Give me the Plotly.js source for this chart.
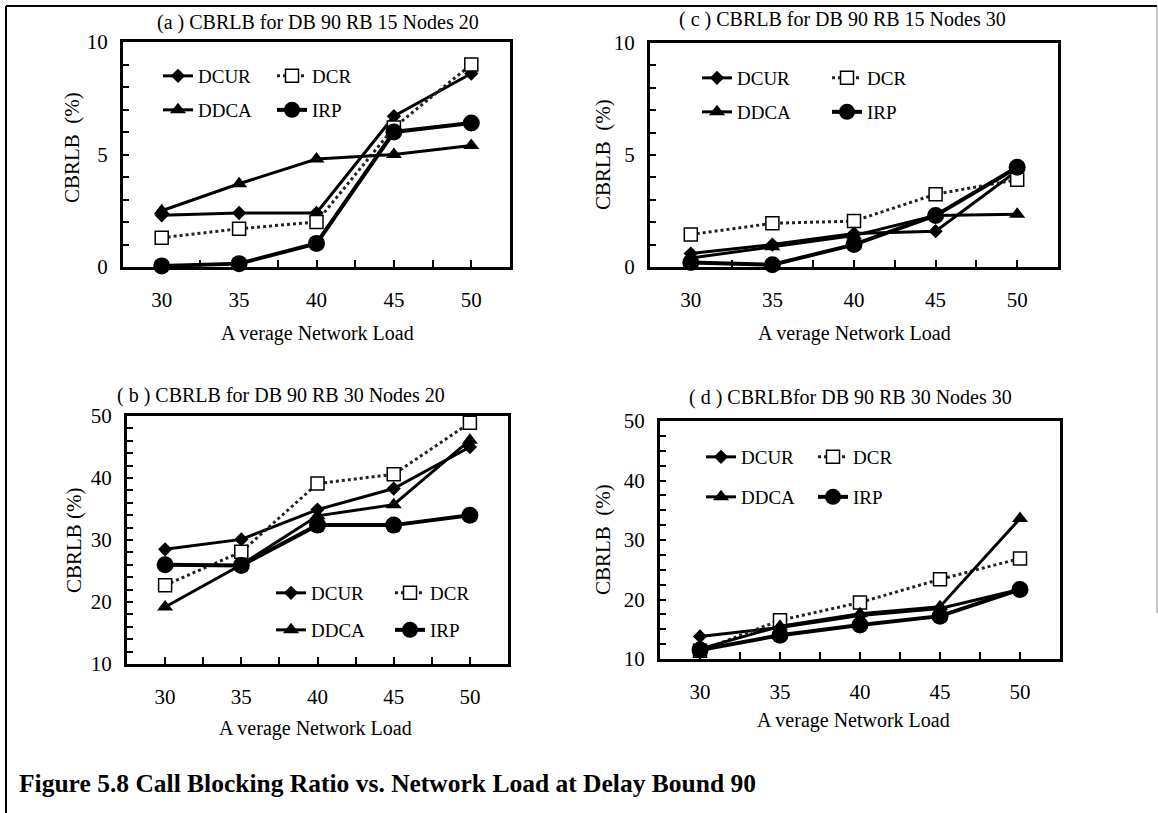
<!DOCTYPE html>
<html>
<head>
<meta charset="utf-8">
<script src="https://cdn.plot.ly/plotly-3.0.1.min.js"></script>
<style>
html,body{margin:0;padding:0;background:#fff;}
#chart{width:1158px;height:813px;}
</style>
</head>
<body>
<div id="chart"></div>
<script>
// ---------- DATA ----------
const loads = [30, 35, 40, 45, 50];
const seriesNames = ["DCUR", "DCR", "DDCA", "IRP"];

// (a) DB 90 RB 15 Nodes 20
const a_DCUR = [2.3, 2.4, 2.4, 6.7, 8.6];
const a_DCR  = [1.3, 1.7, 2.0, 6.2, 9.0];
const a_DDCA = [2.5, 3.7, 4.8, 5.0, 5.4];
const a_IRP  = [0.05, 0.15, 1.05, 6.0, 6.4];

// (c) DB 90 RB 15 Nodes 30
const c_DCUR = [0.6, 1.0, 1.5, 1.6, 4.3];
const c_DCR  = [1.45, 1.95, 2.05, 3.25, 3.9];
const c_DDCA = [0.4, 0.9, 1.4, 2.3, 2.35];
const c_IRP  = [0.2, 0.1, 1.0, 2.3, 4.45];

// (b) DB 90 RB 30 Nodes 20
const b_DCUR = [28.5, 30.1, 34.9, 38.3, 45.0];
const b_DCR  = [22.7, 28.1, 39.1, 40.6, 48.9];
const b_DDCA = [19.2, 26.0, 33.9, 35.7, 46.1];
const b_IRP  = [26.0, 25.9, 32.4, 32.4, 34.0];

// (d) DB 90 RB 30 Nodes 30
const d_DCUR = [13.8, 15.3, 17.3, 18.5, 21.7];
const d_DCR  = [11.4, 16.5, 19.5, 23.4, 26.9];
const d_DDCA = [11.7, 15.5, 17.6, 18.8, 33.6];
const d_IRP  = [11.5, 14.0, 15.7, 17.2, 21.7];

const panelTitles = [
  "(a ) CBRLB for DB 90 RB 15 Nodes 20",
  "( c ) CBRLB for DB 90 RB 15 Nodes 30",
  "( b ) CBRLB for DB 90 RB 30 Nodes 20",
  "( d ) CBRLBfor DB 90 RB 30 Nodes 30"
];
const xTitle = "A verage Network Load";
const yTitleSmall = "CBRLB  (%)";
const yTitleLarge = "CBRLB (%)";
const caption = "Figure 5.8 Call Blocking Ratio vs. Network Load at Delay Bound 90";

// ---------- STYLE ----------
const W = 1158, H = 813;
const FONT = "Liberation Serif";
const px = v => v / W;
const py = v => 1 - v / H;
const serifSpan = t => "<span style='font-family:Liberation Serif'>" + t + "</span>";

const styles = {
  DCUR: {line: {color: "#000", width: 3, dash: "solid"}, marker: {symbol: "diamond", size: 11, color: "#000"}},
  DCR:  {line: {color: "#222", width: 3, dash: "dot"}, marker: {symbol: "square", size: 13, color: "#fff", line: {color: "#000", width: 1.5}}},
  DDCA: {line: {color: "#000", width: 3, dash: "solid"}, marker: {symbol: "triangle-up", size: 14, color: "#000"}},
  IRP:  {line: {color: "#000", width: 4, dash: "solid"}, marker: {symbol: "circle", size: 17, color: "#000"}}
};

const panels = [
  {key: "a", data: [a_DCUR, a_DCR, a_DDCA, a_IRP], box: [123, 510, 42, 267], yr: [0, 10], ydt: 5, yminor: 1,
   title: [318, 23], xt: [317, 333], yt: [72, 148], yTitle: yTitleSmall,
   leg: {x1: 200, x2: 312, r1: 76, r2: 110}},
  {key: "c", data: [c_DCUR, c_DCR, c_DDCA, c_IRP], box: [650, 1058, 43, 267], yr: [0, 10], ydt: 5, yminor: 1,
   title: [842, 19], xt: [854, 333], yt: [603, 155], yTitle: yTitleSmall,
   leg: {x1: 739, x2: 867, r1: 78, r2: 112}},
  {key: "b", data: [b_DCUR, b_DCR, b_DDCA, b_IRP], box: [127, 508, 416, 664], yr: [10, 50], ydt: 10, yminor: 2,
   title: [281, 395], xt: [315, 728], yt: [74, 540], yTitle: yTitleLarge,
   leg: {x1: 313, x2: 430, r1: 593, r2: 630}},
  {key: "d", data: [d_DCUR, d_DCR, d_DDCA, d_IRP], box: [660, 1060, 421, 659], yr: [10, 50], ydt: 10, yminor: 2.5,
   title: [850, 397], xt: [853, 720], yt: [603, 540], yTitle: yTitleSmall,
   leg: {x1: 743, x2: 853, r1: 457, r2: 497}}
];

const traces = [];
const layout = {
  width: W, height: H,
  margin: {l: 0, r: 0, t: 0, b: 0},
  paper_bgcolor: "#fff", plot_bgcolor: "#fff",
  font: {family: FONT, color: "#000", size: 18},
  showlegend: true,
  annotations: [], shapes: []
};

panels.forEach((p, i) => {
  const n = i + 1;
  const xa = n === 1 ? "x" : "x" + n;
  const ya = n === 1 ? "y" : "y" + n;
  const legRow1 = "legend" + (2 * i + 1 === 1 ? "" : (2 * i + 1));
  const legRow2 = "legend" + (2 * i + 2);
  p.data.forEach((vals, s) => {
    const name = seriesNames[s];
    traces.push({
      type: "scatter", mode: "lines+markers", name: serifSpan(name),
      x: loads, y: vals, xaxis: xa, yaxis: ya,
      line: styles[name].line, marker: styles[name].marker,
      cliponaxis: false,
      legend: (s < 2) ? legRow1 : legRow2,
      hoverinfo: "x+y+name"
    });
  });
  const [l, r, t, b] = p.box;
  const yTicks = [];
  for (let v = p.yr[0]; v <= p.yr[1]; v += p.ydt) yTicks.push(v);
  layout["xaxis" + (n === 1 ? "" : n)] = {
    domain: [px(l), px(r)], anchor: ya, range: [27.5, 52.5],
    tickvals: loads, ticktext: loads.map(v => serifSpan(String(v))),
    ticks: "inside", ticklen: 7, tickwidth: 2, tickcolor: "#000",
    minor: {ticks: "inside", dtick: 2.5, tick0: 27.5, ticklen: 7, tickwidth: 2, tickcolor: "#000"},
    showline: true, mirror: true, linewidth: 3, linecolor: "#000",
    showgrid: false, zeroline: false,
    ticklabelstandoff: 12,
    tickfont: {family: FONT, size: 21, color: "#000"},
    fixedrange: true
  };
  layout["yaxis" + (n === 1 ? "" : n)] = {
    domain: [py(b), py(t)], anchor: xa, range: p.yr,
    tickvals: yTicks, ticktext: yTicks.map(v => serifSpan(String(v))),
    ticks: "inside", ticklen: 6, tickwidth: 2, tickcolor: "#000",
    minor: {ticks: "inside", dtick: p.yminor, tick0: p.yr[0], ticklen: 6, tickwidth: 2, tickcolor: "#000"},
    showline: true, mirror: true, linewidth: 3, linecolor: "#000",
    showgrid: false, zeroline: false,
    ticklabelstandoff: 8,
    tickfont: {family: FONT, size: 21, color: "#000"},
    fixedrange: true
  };
  const legCommon = {
    orientation: "h", xanchor: "left", yanchor: "middle",
    entrywidth: p.leg.x2 - p.leg.x1 - 43, entrywidthmode: "pixels",
    bgcolor: "rgba(0,0,0,0)", borderwidth: 0,
    font: {family: FONT, size: 19, color: "#000"}, itemclick: false, itemdoubleclick: false
  };
  layout[legRow1] = Object.assign({x: px(p.leg.x1 - 42), y: py(p.leg.r1)}, legCommon);
  layout[legRow2] = Object.assign({x: px(p.leg.x1 - 42), y: py(p.leg.r2)}, legCommon);
  layout.annotations.push({
    text: panelTitles[i], xref: "paper", yref: "paper",
    x: px(p.title[0]), y: py(p.title[1]), xanchor: "center", yanchor: "middle",
    showarrow: false, font: {family: FONT, size: 20, color: "#000"}
  });
  layout.annotations.push({
    text: xTitle, xref: "paper", yref: "paper",
    x: px(p.xt[0]), y: py(p.xt[1]), xanchor: "center", yanchor: "middle",
    showarrow: false, font: {family: FONT, size: 20, color: "#000"}
  });
  layout.annotations.push({
    text: p.yTitle, xref: "paper", yref: "paper", textangle: -90,
    x: px(p.yt[0]), y: py(p.yt[1]), xanchor: "center", yanchor: "middle",
    showarrow: false, font: {family: FONT, size: 21, color: "#000"}
  });
});

layout.annotations.push({
  text: "<b>" + caption + "</b>", xref: "paper", yref: "paper",
  x: px(17), y: py(783), xanchor: "left", yanchor: "middle",
  showarrow: false, font: {family: FONT, size: 25.5, color: "#000"}
});

layout.shapes.push(
  {type: "line", xref: "paper", yref: "paper", x0: px(6), x1: px(1157), y0: py(6), y1: py(6), line: {color: "#000", width: 2}},
  {type: "line", xref: "paper", yref: "paper", x0: px(6), x1: px(6), y0: py(6), y1: py(813), line: {color: "#000", width: 2}},
  {type: "line", xref: "paper", yref: "paper", x0: px(1157), x1: px(1157), y0: py(6), y1: py(613), line: {color: "#888", width: 1}}
);

Plotly.newPlot("chart", traces, layout, {displayModeBar: false, staticPlot: true});
</script>
</body>
</html>
